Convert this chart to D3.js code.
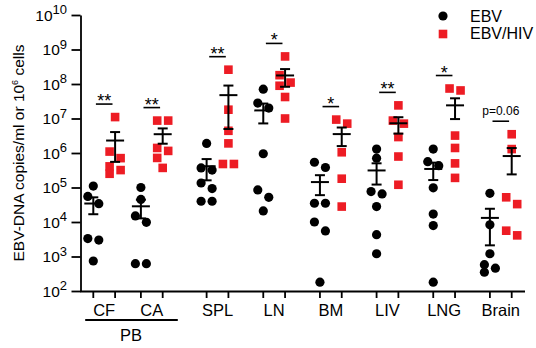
<!DOCTYPE html>
<html lang="en">
<head>
  <meta charset="UTF-8" />
  <title>EBV vs EBV/HIV viral load by tissue</title>
  <script src="https://d3js.org/d3.v7.min.js"></script>
  <style>
    body { margin: 0; background: #fff; }
    svg { display: block; font-family: "Liberation Sans", Arial, sans-serif; }
  </style>
</head>
<body>
  <svg width="536" height="348"></svg>

  <script>
    // groups along the x axis and the two series
    const groups = ["CF", "CA", "SPL", "LN", "BM", "LIV", "LNG", "Brain"];
    const series = ["EBV", "EBV/HIV"];
    const sigLabels = ["**", "**", "**", "*", "*", "**", "*", "p=0.06"];
    const yTickExps = [2, 3, 4, 5, 6, 7, 8, 9, 10];

    // EBV-DNA copies (one array per group)
    const ebvValues = [
      [1.1e5, 5.5e4, 3.4e4, 3.3e3, 3.0e3, 7.4e2],
      [1.0e5, 4.5e4, 1.5e4, 9.8e3, 6.2e2, 6.2e2],
      [1.9e6, 3.7e5, 3.2e5, 1.35e5, 9.3e4, 4.0e4, 4.0e4],
      [7.1e7, 2.8e7, 2.0e7, 9.5e5, 8.5e4, 5.2e4, 2.1e4],
      [5.4e5, 3.8e5, 3.5e4, 3.5e4, 1.0e4, 5.5e3, 1.8e2],
      [1.3e6, 7.1e5, 7.6e4, 6.5e4, 2.8e4, 4.3e3, 1.2e3],
      [1.3e6, 5.6e5, 4.3e5, 9.8e4, 1.7e4, 7.9e3, 1.8e2],
      [6.8e4, 8.3e3, 1.2e3, 5.8e2, 4.6e2, 3.5e2]
    ];
    const hivValues = [
      [1.1e7, 1.1e6, 7.1e5, 4.1e5, 3.2e5, 2.5e5],
      [8.7e6, 8.7e6, 1.4e6, 1.15e6, 7.2e5, 3.7e5],
      [2.6e8, 1.8e7, 4.4e6, 1.9e6, 4.8e5, 4.8e5],
      [6.3e8, 1.8e8, 1.1e8, 8.9e7, 4.2e7, 1.0e7],
      [9.3e6, 7.1e6, 1.05e6, 1.8e5, 2.8e4],
      [2.4e7, 8.7e6, 7.1e6, 2.9e6, 7.9e5, 1.2e5],
      [7.4e7, 6.5e7, 3.2e6, 1.4e6, 5.0e5, 1.9e5],
      [3.5e6, 1.3e6, 5.2e4, 3.3e4, 5.6e3, 4.1e3]
    ];

    const red = "#ed1c24";
    const svg = d3.select("svg");

    // layout: the two PB groups sit closer together
    const slot = [0, 0.84, 2, 3, 4, 5, 6, 7];
    const x = d3.scaleLinear().domain([0, 7]).range([104.2, 500.8]);
    const xSub = d3.scalePoint().domain(series).range([-10.9, 10.9]);
    const y = d3.scaleLog().domain([1e2, 1e10]).range([291, 15]);

    const cx = (gi, s) => x(slot[gi]) + xSub(s);

    // y axis
    const yAxis = svg.append("g")
      .attr("transform", "translate(80.5,0)")
      .call(d3.axisLeft(y).tickValues(yTickExps.map(e => Math.pow(10, e)))
        .tickSize(9).tickSizeOuter(0).tickFormat(""));
    yAxis.selectAll("path, line").attr("stroke", "#000").attr("stroke-width", 1.8);

    const yLab = svg.append("g").selectAll("text")
      .data(yTickExps).join("text")
      .attr("x", 67)
      .attr("y", d => y(Math.pow(10, d)) + 5.5)
      .attr("text-anchor", "end")
      .attr("font-size", 15.5);
    yLab.append("tspan").text("10");
    yLab.append("tspan").attr("font-size", 13).attr("dy", -6.5).text(d => d);

    const yTitle = svg.append("text")
      .attr("transform", "translate(24,153) rotate(-90)")
      .attr("text-anchor", "middle")
      .attr("font-size", 15.5);
    yTitle.append("tspan").text("EBV-DNA copies/ml or 10");
    yTitle.append("tspan").attr("font-size", 9).attr("dy", -6).text("6");
    yTitle.append("tspan").attr("dy", 6).text(" cells");

    // x axis
    svg.append("line")
      .attr("x1", 80).attr("x2", 525).attr("y1", 291.5).attr("y2", 291.5)
      .attr("stroke", "#000").attr("stroke-width", 1.8);

    const cols = [];
    groups.forEach((g, gi) => series.forEach(s => cols.push({ gi, s })));
    svg.append("g").selectAll("line")
      .data(cols).join("line")
      .attr("x1", d => cx(d.gi, d.s)).attr("x2", d => cx(d.gi, d.s))
      .attr("y1", 291.5).attr("y2", 298)
      .attr("stroke", "#000").attr("stroke-width", 1.8);

    svg.append("g").selectAll("text")
      .data(groups).join("text")
      .attr("x", (d, i) => x(slot[i]))
      .attr("y", 316)
      .attr("text-anchor", "middle")
      .attr("font-size", 16.5)
      .text(d => d);

    // PB bracket under CF/CA
    svg.append("line")
      .attr("x1", x(slot[0]) - 19).attr("x2", x(slot[1]) + 26)
      .attr("y1", 320).attr("y2", 320)
      .attr("stroke", "#000").attr("stroke-width", 2);
    svg.append("text")
      .attr("x", (x(slot[0]) + x(slot[1])) / 2 + 3)
      .attr("y", 341)
      .attr("text-anchor", "middle")
      .attr("font-size", 16.5)
      .text("PB");

    // points that would overlap vertically get spread left/right
    function placePoints(vals, gi, s) {
      const sorted = vals.slice().sort((a, b) => b - a);
      const base = cx(gi, s);
      const clusters = [];
      sorted.forEach(v => {
        const py = y(v);
        const last = clusters.length ? clusters[clusters.length - 1] : null;
        if (last && py - last[last.length - 1].py < 9) last.push({ v, py });
        else clusters.push([{ v, py }]);
      });
      const out = [];
      clusters.forEach(c => {
        c.forEach((p, i) => {
          const off = c.length === 1 ? 0 : (i % 2 === 0 ? -5.5 : 5.5);
          out.push({ v: p.v, py: p.py, px: base + off, s, gi });
        });
      });
      return out;
    }

    const points = [];
    groups.forEach((g, gi) => {
      points.push(...placePoints(ebvValues[gi], gi, "EBV"));
      points.push(...placePoints(hivValues[gi], gi, "EBV/HIV"));
    });

    svg.append("g").selectAll("circle")
      .data(points.filter(p => p.s === "EBV")).join("circle")
      .attr("cx", d => d.px).attr("cy", d => d.py)
      .attr("r", 4.6).attr("fill", "#000");

    svg.append("g").selectAll("rect")
      .data(points.filter(p => p.s === "EBV/HIV")).join("rect")
      .attr("x", d => d.px - 4.3).attr("y", d => d.py - 4.3)
      .attr("width", 8.6).attr("height", 8.6)
      .attr("fill", red);

    // mean +/- SEM
    const stats = [];
    groups.forEach((g, gi) => {
      [[ebvValues[gi], "EBV"], [hivValues[gi], "EBV/HIV"]].forEach(([vals, s]) => {
        const m = d3.mean(vals);
        const sem = d3.deviation(vals) / Math.sqrt(vals.length);
        stats.push({ gi, s, m, lo: m - sem, hi: m + sem });
      });
    });

    const eb = svg.append("g").attr("stroke", "#000").attr("stroke-width", 2);
    stats.forEach(d => {
      const c = cx(d.gi, d.s);
      eb.append("line").attr("x1", c).attr("x2", c).attr("y1", y(d.hi)).attr("y2", y(d.lo));
      eb.append("line").attr("x1", c - 9).attr("x2", c + 9).attr("y1", y(d.m)).attr("y2", y(d.m));
      eb.append("line").attr("x1", c - 5).attr("x2", c + 5).attr("y1", y(d.hi)).attr("y2", y(d.hi));
      eb.append("line").attr("x1", c - 5).attr("x2", c + 5).attr("y1", y(d.lo)).attr("y2", y(d.lo));
    });

    // significance marks above each pair
    const sig = svg.append("g");
    groups.forEach((g, gi) => {
      const top = y(d3.max(hivValues[gi])) - 13;
      const c = x(slot[gi]);
      sig.append("line")
        .attr("x1", c - 8.3).attr("x2", c + 8.3)
        .attr("y1", top).attr("y2", top)
        .attr("stroke", "#000").attr("stroke-width", 1.6);
      const isP = sigLabels[gi].startsWith("p");
      sig.append("text")
        .attr("x", c)
        .attr("y", isP ? top - 6 : top + 3)
        .attr("text-anchor", "middle")
        .attr("font-size", isP ? 12 : 18)
        .text(sigLabels[gi]);
    });

    // legend
    const legend = svg.append("g");
    legend.append("circle").attr("cx", 443).attr("cy", 16).attr("r", 4.6).attr("fill", "#000");
    legend.append("rect").attr("x", 438.7).attr("y", 29.7).attr("width", 8.6).attr("height", 8.6).attr("fill", red);
    legend.selectAll("text")
      .data(series).join("text")
      .attr("x", 470)
      .attr("y", (d, i) => 21.5 + i * 17.5)
      .attr("font-size", 16)
      .text(d => d);
  </script>
</body>
</html>
